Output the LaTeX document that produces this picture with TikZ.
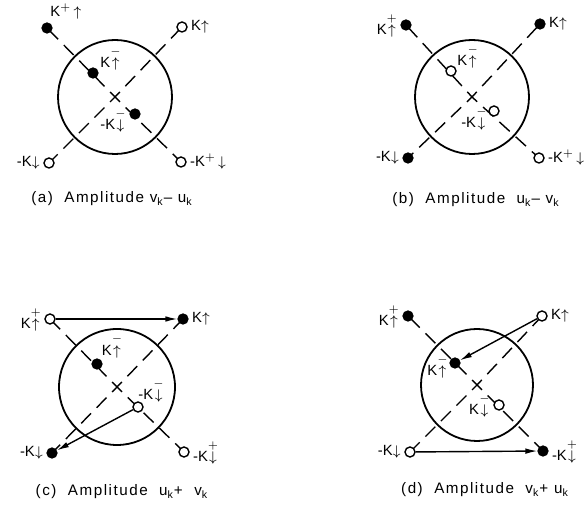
\documentclass[tikz,border=0pt]{standalone}
\usepackage{fontspec}
\setmainfont{Liberation Sans}
\newfontfamily\capfont[LetterSpace=10]{Liberation Sans}
\usetikzlibrary{arrows.meta,positioning,backgrounds}

\newcommand{\stk}[2]{$\stackrel{#1}{#2}$}
\newcommand{\kup}{$\uparrow$}
\newcommand{\kdn}{$\downarrow$}

\tikzset{
  full/.style={circle,draw,fill=black,inner sep=0pt,minimum size=5.2pt},
  hollow/.style={circle,draw,fill=white,inner sep=0pt,minimum size=5pt,line width=0.7pt},
  lbl/.style={inner sep=0.5pt,font=\fontsize{7.4}{8}\selectfont},
  axis/.style={line width=0.7pt,dash pattern=on 7pt off 4pt,dash phase=3.5pt},
  rim/.style={line width=0.9pt},
  panelcap/.style={font=\capfont\fontsize{7.6}{9}\selectfont},
  jump/.style={line width=0.7pt,-{Latex[length=6pt,width=2.8pt]}}
}

\begin{document}
\begin{tikzpicture}[x=0.5pt,y=-0.5pt]
 \useasboundingbox (0,0) rectangle (584,506);

 % (a)
 \begin{scope}[shift={(115,97)}]
  \coordinate (ca) at (0,0);
  \draw[rim] (ca) circle[radius=28.5pt];
  \node[full] (a1) at (-68,-69) {};
  \node[hollow] (a2) at (67,-70) {};
  \node[full] (a3) at (-22,-24) {};
  \node[full] (a4) at (20,17) {};
  \node[hollow] (a5) at (-66,66) {};
  \node[hollow] (a6) at (66,65) {};
  \begin{scope}[on background layer]
   \draw[axis] (ca) -- (a1.center);
   \draw[axis] (ca) -- (a6.center);
   \draw[axis] (ca) -- (a2.center);
   \draw[axis] (ca) -- (a5.center);
  \end{scope}
  \node[lbl,above right=1.5pt and -1pt of a1] (a1t) {K$^{+}\!\uparrow$};
  \node[lbl,right=1pt of a2] (a2t) {K\kup};
  \node[lbl,above right=-1.5pt and 1pt of a3] (a3t) {K\stk{-}{\uparrow}};
  \node[lbl,left=1pt of a4,yshift=-3pt] (a4t) {-K\stk{-}{\downarrow}};
  \node[lbl,left=1pt of a5] (a5t) {-K\kdn};
  \node[lbl,right=1pt of a6] (a6t) {-K$^{+}\!\downarrow$};
  \node[panelcap] (capa) at (-3,102) {(a)\ \ Amplitude\ v\textsubscript{k}– u\textsubscript{k}};
 \end{scope}

 % (b)
 \begin{scope}[shift={(472,97)}]
  \coordinate (cb) at (0,0);
  \draw[rim] (cb) circle[radius=28.5pt];
  \node[full] (b1) at (-66,-72) {};
  \node[full] (b2) at (68,-73) {};
  \node[hollow] (b3) at (-21,-26) {};
  \node[hollow] (b4) at (22,14) {};
  \node[full] (b5) at (-64,61) {};
  \node[hollow] (b6) at (67,61) {};
  \begin{scope}[on background layer]
   \draw[axis] (cb) -- (b1.center);
   \draw[axis] (cb) -- (b6.center);
   \draw[axis] (cb) -- (b2.center);
   \draw[axis] (cb) -- (b5.center);
  \end{scope}
  \node[lbl,left=1pt of b1] (b1t) {K\stk{+}{\uparrow}};
  \node[lbl,right=1pt of b2] (b2t) {K\kup};
  \node[lbl,above right=-1.5pt and 0.5pt of b3] (b3t) {K\stk{-}{\uparrow}};
  \node[lbl,left=0pt of b4,yshift=-3.5pt] (b4t) {-K\stk{-}{\downarrow}};
  \node[lbl,left=1pt of b5] (b5t) {-K\kdn};
  \node[lbl,right=1pt of b6] (b6t) {-K$^{+}\!\downarrow$};
  \node[panelcap] (capb) at (4,103) {(b)\ \ Amplitude\ \ u\textsubscript{k}– v\textsubscript{k}};
 \end{scope}

 % (c)
 \begin{scope}[shift={(117,387)}]
  \coordinate (cc) at (0,0);
  \draw[rim] (cc) circle[radius=29pt];
  \node[hollow] (c1) at (-67,-68) {};
  \node[full] (c2) at (66,-68) {};
  \node[full] (c3) at (-20,-23) {};
  \node[hollow] (c4) at (21,20) {};
  \node[full] (c5) at (-65,66) {};
  \node[hollow] (c6) at (67,65) {};
  \begin{scope}[on background layer]
   \draw[axis] (cc) -- (c1.center);
   \draw[axis] (cc) -- (c6.center);
   \draw[axis] (cc) -- (c2.center);
   \draw[axis] (cc) -- (c5.center);
  \end{scope}
  \draw[jump] (c1) -- (c2);
  \draw[jump] (c4) -- (c5);
  \node[lbl,left=1pt of c1] (c1t) {K\stk{+}{\uparrow}};
  \node[lbl,right=1pt of c2] (c2t) {K\kup};
  \node[lbl,above right=0.3pt and -0.3pt of c3] (c3t) {K\stk{-}{\uparrow}};
  \node[lbl,above right=-0.5pt and -2.5pt of c4] (c4t) {-K\stk{-}{\downarrow}};
  \node[lbl,left=1pt of c5] (c5t) {-K\kdn};
  \node[lbl,right=1pt of c6] (c6t) {-K\stk{+}{\downarrow}};
  \node[panelcap] (capc) at (5,105) {(c)\ \ Amplitude\ \ u\textsubscript{k}+\ \ v\textsubscript{k}};
 \end{scope}

 % (d)
 \begin{scope}[shift={(477,385)}]
  \coordinate (cd) at (0,0);
  \draw[rim] (cd) circle[radius=28pt];
  \node[full] (d1) at (-69,-69) {};
  \node[hollow] (d2) at (65,-69) {};
  \node[full] (d3) at (-22,-22) {};
  \node[hollow] (d4) at (22,20) {};
  \node[hollow] (d5) at (-67,67) {};
  \node[full] (d6) at (66,66) {};
  \begin{scope}[on background layer]
   \draw[axis] (cd) -- (d1.center);
   \draw[axis] (cd) -- (d6.center);
   \draw[axis] (cd) -- (d2.center);
   \draw[axis] (cd) -- (d5.center);
  \end{scope}
  \draw[jump] (d2) -- (d3);
  \draw[jump] (d5) -- (d6);
  \node[lbl,left=1pt of d1] (d1t) {K\stk{+}{\uparrow}};
  \node[lbl,right=1pt of d2] (d2t) {K\kup};
  \node[lbl,left=0pt of d3,yshift=-1.5pt] (d3t) {K\stk{-}{\uparrow}};
  \node[lbl,left=1pt of d4] (d4t) {K\stk{-}{\downarrow}};
  \node[lbl,left=1pt of d5] (d5t) {-K\kdn};
  \node[lbl,right=1pt of d6] (d6t) {-K\stk{+}{\downarrow}};
  \node[panelcap] (capd) at (8,105) {(d)\ \ Amplitude\ \ v\textsubscript{k}+\ u\textsubscript{k}};
 \end{scope}
\end{tikzpicture}
\end{document}
